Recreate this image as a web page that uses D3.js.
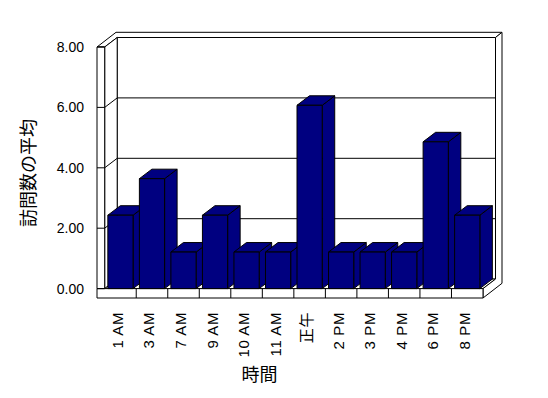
<!DOCTYPE html>
<html><head><meta charset="utf-8">
<script src="https://cdn.jsdelivr.net/npm/d3@7"></script>
<style>
html,body{margin:0;padding:0;background:#fff;}
svg{display:block;}
text{font-family:"Liberation Sans",Arial,"Noto Sans CJK JP",sans-serif;fill:#000;}
</style></head>
<body>
<svg id="chart" width="548" height="398"></svg>
<script>
const categories = ["1 AM","3 AM","7 AM","9 AM","10 AM","11 AM","正午","2 PM","3 PM","4 PM","6 PM","8 PM"];
const values = [2.43,3.64,1.21,2.43,1.21,1.21,6.07,1.21,1.21,1.21,4.86,2.43];
const yTicks = [0,2,4,6,8];
const yTickLabels = ["0.00","2.00","4.00","6.00","8.00"];
const yTitle = "訪問数の平均";
const xTitle = "時間";

const svg = d3.select("#chart");
const x0 = 97, x1 = 104.7, x2 = 483;      // left wall outer, plot start, plot end (front plane)
const yb = 298;                           // floor bottom (front)
const dx = 12.5, dy = -9.5;               // depth offset of back wall inner face
const tx = 6.5, ty = -5.2;                // wall thickness offset
const y = d3.scaleLinear().domain([0,8]).range([288.6,47]);
const x = d3.scaleBand().domain(categories).range([x1,x2]).paddingInner(0.2).paddingOuter(0.1);
const step = x.step();
const y0 = y(0), yTop = y(8);
const stroke = "#000";

function poly(pts, fill){
  svg.append("polygon").attr("points", pts.map(p=>p.join(",")).join(" "))
    .attr("fill", fill).attr("stroke", stroke).attr("stroke-width",1).attr("stroke-linejoin","miter");
}
function line(a,b){
  svg.append("line").attr("x1",a[0]).attr("y1",a[1]).attr("x2",b[0]).attr("y2",b[1])
    .attr("stroke",stroke).attr("stroke-width",1);
}

// Top strip of walls
poly([[x0,yTop],[x0+dx+tx,yTop+dy+ty],[x2+dx+tx,yTop+dy+ty],[x2+dx,yTop+dy],[x1+dx,yTop+dy],[x1,yTop]],"#fff");
// Back wall inner face
poly([[x1+dx,yTop+dy],[x2+dx,yTop+dy],[x2+dx,y0+dy],[x1+dx,y0+dy]],"#fff");
// Left wall inner face
poly([[x1,yTop],[x1+dx,yTop+dy],[x1+dx,y0+dy],[x1,y0]],"#fff");
// Floor top
poly([[x1,y0],[x2,y0],[x2+dx,y0+dy],[x1+dx,y0+dy]],"#fff");
// Right side of floor + back wall
poly([[x2,y0],[x2+dx,y0+dy],[x2+dx,yTop+dy],[x2+dx+tx,yTop+dy+ty],[x2+dx+tx,yb+dy+ty],[x2,yb]],"#fff");
// Floor front face
poly([[x0,y0],[x2,y0],[x2,yb],[x0,yb]],"#fff");
// Left wall front face
poly([[x0,yTop],[x1,yTop],[x1,y0],[x0,y0]],"#fff");

// Gridlines
yTicks.filter(v=>v>0 && v<8).forEach(v=>{
  line([x1+dx,y(v)+dy],[x2+dx,y(v)+dy]);
  line([x1,y(v)],[x1+dx,y(v)+dy]);
});
yTicks.forEach(v=>{ line([x0,y(v)],[x1,y(v)]); });

// Category ticks on floor front
categories.slice(1).forEach((c)=>{
  const xx = x(c) - step*0.1;
  line([xx,y0],[xx,yb]);
});

// Bars
const barFill = "#000080";
categories.forEach((c,i)=>{
  const bx = x(c), bw = x.bandwidth(), ty0 = y(values[i]);
  poly([[bx+bw,ty0],[bx+bw+dx,ty0+dy],[bx+bw+dx,y0+dy],[bx+bw,y0]],barFill);
  poly([[bx,ty0],[bx+dx,ty0+dy],[bx+bw+dx,ty0+dy],[bx+bw,ty0]],barFill);
  poly([[bx,ty0],[bx+bw,ty0],[bx+bw,y0],[bx,y0]],barFill);
});

// Y tick labels
svg.selectAll("text.ytick").data(yTicks).enter().append("text")
  .attr("class","ytick").attr("x",84).attr("y",d=>y(d))
  .attr("text-anchor","end").attr("dominant-baseline","central")
  .style("font-size","14px").text((d,i)=>yTickLabels[i]);

// X tick labels (rotated)
svg.selectAll("text.xtick").data(categories).enter().append("text")
  .attr("class","xtick")
  .attr("transform",d=>`translate(${x(d)+x.bandwidth()/2+2.5},312) rotate(-90)`)
  .attr("text-anchor","end")
  .style("font-size","15px").style("letter-spacing","0.6px").text(d=>d);

// Axis titles
svg.append("text").attr("transform","translate(29,173) rotate(-90)")
  .attr("text-anchor","middle").attr("dominant-baseline","central")
  .style("font-size","18px").text(yTitle);
svg.append("text").attr("x",259.5).attr("y",375)
  .attr("text-anchor","middle").attr("dominant-baseline","central")
  .style("font-size","18px").text(xTitle);
</script>
</body></html>
